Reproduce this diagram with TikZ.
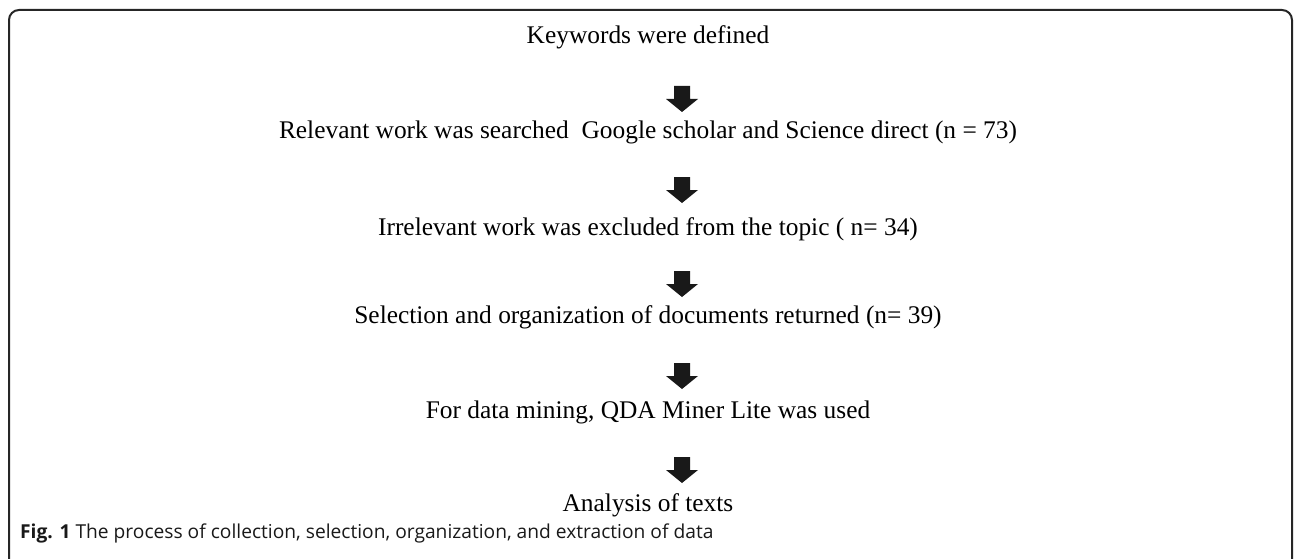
\documentclass[tikz,border=0pt]{standalone}
\usepackage{fontspec}
\setmainfont{Liberation Serif}
\newfontfamily\capfont{Open Sans}
\usepackage{tikz}
\usetikzlibrary{calc}
\tikzset{
	steptext/.style ={anchor=base, inner sep=0pt, font=\fontsize{25.4}{30}\selectfont},
	captext/.style  ={anchor=base west, inner sep=0pt, font=\capfont\fontsize{19.2}{23}\selectfont, text=black!90},
	frame/.style    ={line width=2pt, rounded corners=10pt, draw=black!85},
	blockarrow/.style={fill=black!90, draw=none},
}
\begin{document}
\begin{tikzpicture}[x=1pt, y=-1pt]
	\clip (0,0) rectangle (1296,559);
	\useasboundingbox (0,0) rectangle (1296,559);
	% outer frame
	\draw[frame] (9,10) rectangle (1292,575);
	% steps
	\node[steptext] (kw)  at (648,44)  {Keywords were defined};
	\node[steptext] (rel) at (648,139) {Relevant work was searched\ \ Google scholar and Science direct (n = 73)};
	\node[steptext] (irr) at (648,235) {Irrelevant work was excluded from the topic ( n= 34)};
	\node[steptext] (sel) at (648,323) {Selection and organization of documents returned (n= 39)};
	\node[steptext] (qda) at (648,418) {For data mining, QDA Miner Lite was used};
	\node[steptext] (ana) at (648,511) {Analysis of texts};
	% block arrows between the steps
	\foreach \n/\y in {a1/86, a2/177, a3/271, a4/363, a5/457}{
		\coordinate (\n) at (682,\y);
		\fill[blockarrow] (\n) ++(-8,0) -- ++(16,0) -- ++(0,13) -- ++(8,0)
			-- ++(-16,13) -- ++(-16,-13) -- ++(8,0) -- cycle;
	}
	% caption
	\node[captext] (cap) at (20,538) {\textbf{Fig. 1} The process of collection, selection, organization, and extraction of data};
\end{tikzpicture}
\end{document}
